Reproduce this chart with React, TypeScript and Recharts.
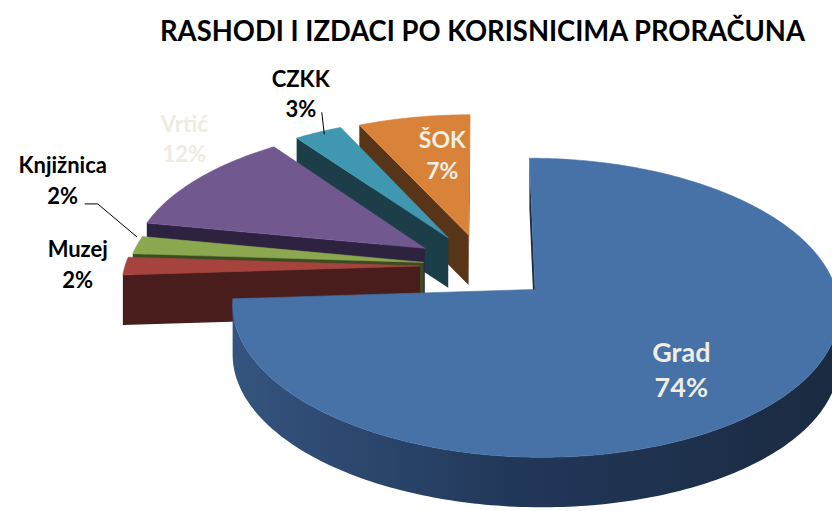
import { PieChart, Pie } from 'recharts';

const categories = ['ŠOK', 'CZKK', 'Vrtić', 'Knjižnica', 'Muzej', 'Grad'];
const shares = [7, 3, 12, 2, 2, 74];
const title = 'RASHODI I IZDACI PO KORISNICIMA PRORAČUNA';

const rows = categories.map((name, i) => ({ name, value: shares[i] }));

// fake 3d: tilt of the ellipse, a bit of perspective, thickness of the disc
const TILT = 0.48;
const PERSP = 0.12;
const DEPTH = 50;
const RAD = Math.PI / 180;

type Look = {
  top: string;
  side: string;
  wall?: string;
  explode: number;
  rf: number;
  dx: number;
  dy: number;
  fs: number;
  text: string;
  gap: number;
  leader?: 'elbow' | 'short';
};

const LOOK: Record<string, Look> = {
  'ŠOK': { top: '#D9823A', side: '#583418', explode: 68, rf: 0.6, dx: 8, dy: -7, fs: 23, text: '#F2EFE4', gap: 31 },
  CZKK: { top: '#3F97B0', side: '#1B3E49', explode: 70, rf: 1.3, dx: 17, dy: -11, fs: 22, text: '#000', gap: 30, leader: 'short' },
  'Vrtić': { top: '#71588F', side: '#2D2340', explode: 70, rf: 1.2, dx: 29, dy: -28, fs: 22, text: '#EEECE1', gap: 30 },
  'Knjižnica': { top: '#8BA84E', side: '#3C4B20', explode: 60, rf: 1.3, dx: 10, dy: -61, fs: 22, text: '#000', gap: 31, leader: 'elbow' },
  Muzej: { top: '#A6433F', side: '#481D1C', explode: 63, rf: 1.15, dx: -3, dy: -3, fs: 22, text: '#000', gap: 31 },
  Grad: { top: '#4672A8', side: '#1C2D44', wall: 'url(#gradWall)', explode: 70, rf: 0.62, dx: 0, dy: 13, fs: 27, text: '#F0EDE2', gap: 35 },
};

type Pt = [number, number];

function pointer(cx: number, cy: number, R: number, mid: number, explode: number) {
  const ox = explode * Math.cos(mid * RAD);
  const oz = explode * Math.sin(mid * RAD);
  return (angle: number, r: number): Pt => {
    const X = ox + r * Math.cos(angle * RAD);
    const Z = oz + r * Math.sin(angle * RAD);
    const s = 1 / (1 + (PERSP * Z) / R);
    return [cx + X * s, cy - TILT * Z * s];
  };
}

const poly = (pts: Pt[]) => 'M' + pts.map((p) => `${p[0].toFixed(2)},${p[1].toFixed(2)}`).join('L') + 'Z';
const drop = (pts: Pt[]) => pts.map((p) => [p[0], p[1] + DEPTH] as Pt);

function Slice3D(props: any) {
  const { cx, cy, outerRadius, startAngle, endAngle, midAngle } = props;
  const name = props.name ?? props.payload?.name;
  const look = LOOK[name];
  if (!look) return null;
  const lo = Math.min(startAngle, endAngle);
  const hi = Math.max(startAngle, endAngle);
  const pt = pointer(cx, cy, outerRadius, midAngle, look.explode);
  const apex = pt(0, 0);
  const steps = Math.max(2, Math.ceil(hi - lo));
  const arc: Pt[] = [];
  for (let i = 0; i <= steps; i++) arc.push(pt(lo + ((hi - lo) * i) / steps, outerRadius));

  const pieces: any[] = [];
  // cut faces: only the ones whose edge runs left to right are seen from the front
  const edges: [Pt, Pt][] = [
    [apex, arc[0]],
    [arc[arc.length - 1], apex],
  ];
  edges.forEach(([a, b], i) => {
    if (b[0] - a[0] > 0.01) pieces.push(<path key={'f' + i} d={poly([a, b, ...drop([b, a])])} fill={look.side} />);
  });

  let run: Pt[] = [];
  const flush = () => {
    if (run.length > 1) {
      pieces.push(<path key={'w' + pieces.length} d={poly([...run, ...drop(run).reverse()])} fill={look.wall ?? look.side} />);
    }
    run = [];
  };
  for (let i = 0; i < arc.length - 1; i++) {
    if (arc[i + 1][0] > arc[i][0]) {
      if (!run.length) run.push(arc[i]);
      run.push(arc[i + 1]);
    } else flush();
  }
  flush();

  return (
    <g>
      {look.wall && (
        <defs>
          <linearGradient id="gradWall" x1="0" y1="0" x2="1" y2="0">
            <stop offset="0%" stopColor="#34547F" />
            <stop offset="45%" stopColor="#22385A" />
            <stop offset="100%" stopColor="#1A2A40" />
          </linearGradient>
        </defs>
      )}
      {pieces}
      <path d={poly([apex, ...arc])} fill={look.top} stroke={look.top} strokeWidth={0.6} strokeLinejoin="round" />
    </g>
  );
}

function renderLabel(props: any) {
  const { cx, cy, outerRadius, midAngle, percent } = props;
  const name = props.name ?? props.payload?.name;
  const look = LOOK[name];
  const pt = pointer(cx, cy, outerRadius, midAngle, look.explode);
  const [px, py] = pt(midAngle, outerRadius * look.rf);
  const ax = px + look.dx;
  const ay = py + look.dy;
  const [ex, ey] = pt(midAngle, outerRadius);
  const txt = { textAnchor: 'middle' as const, fill: look.text, fontSize: look.fs, fontWeight: 700, fontFamily: 'Lato' };

  return (
    <g key={name}>
      {look.leader === 'elbow' && (
        <polyline points={`${ex},${ey - 8} ${ax + 35},${ay + 25} ${ax + 22},${ay + 25}`} fill="none" stroke="#000" strokeWidth={1} />
      )}
      {look.leader === 'short' && (
        <line x1={ex + 6} y1={ey + 2} x2={ax + 21} y2={ay + 19} stroke="#000" strokeWidth={1} />
      )}
      <text x={ax} y={ay - 6} {...txt}>
        {name}
      </text>
      <text x={ax} y={ay - 6 + look.gap} {...txt}>
        {`${Math.round(percent * 100)}%`}
      </text>
    </g>
  );
}

const pieExtra: any = { shape: Slice3D, activeShape: Slice3D, inactiveShape: Slice3D };

export default function App() {
  return (
    <div style={{ position: 'absolute', left: 0, top: 0, width: 832, height: 511, background: '#fff' }}>
      <PieChart width={832} height={511} margin={{ top: 0, right: 0, bottom: 0, left: 0 }}>
        <Pie
          data={rows}
          dataKey="value"
          nameKey="name"
          cx={483}
          cy={266}
          outerRadius={295}
          startAngle={90}
          endAngle={450}
          isAnimationActive={false}
          label={renderLabel}
          labelLine={false}
          {...pieExtra}
        />
      </PieChart>
      <svg width={832} height={60} style={{ position: 'absolute', left: 0, top: 0, pointerEvents: 'none' }}>
        <text x={160} y={41} textLength={645} lengthAdjust="spacingAndGlyphs" fontFamily="Lato" fontWeight={700} fontSize={29} fill="#000">
          {title}
        </text>
      </svg>
    </div>
  );
}
